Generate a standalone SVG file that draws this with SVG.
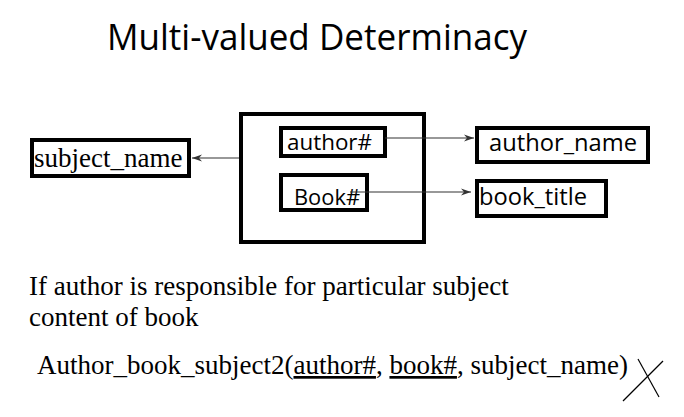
<svg xmlns="http://www.w3.org/2000/svg" width="684" height="417" viewBox="0 0 684 417">
<style>
.box{fill:#fff;stroke:#000;stroke-width:4}
.serif{font-family:"Liberation Serif","Times New Roman",serif;fill:#000}
.sans{font-family:"Open Sans","Noto Sans",sans-serif;fill:#000}
.conn{stroke:#333;stroke-width:1.2;fill:none}
</style>
<defs>
<marker id="arr" viewBox="0 0 10 10" refX="10" refY="5" markerWidth="10" markerHeight="10" markerUnits="userSpaceOnUse" orient="auto">
<path d="M0,1.5 L10,5 L0,8.5 L3,5 Z" fill="#333"/>
</marker>
</defs>
<rect width="684" height="417" fill="#fff"/>
<text class="sans" x="107" y="50" font-size="37" textLength="420" lengthAdjust="spacingAndGlyphs">Multi-valued Determinacy</text>
<g id="container"><rect class="box" x="241" y="114" width="183" height="128"/></g>
<g id="subject_name"><rect class="box" x="32" y="140" width="157" height="36"/><text class="serif" x="34" y="167" font-size="27">subject_name</text></g>
<g id="author_id"><rect class="box" x="281" y="128" width="104" height="28"/><text class="sans" x="287" y="150" font-size="22" textLength="85" lengthAdjust="spacingAndGlyphs">author#</text></g>
<g id="book_id"><rect class="box" x="281" y="175" width="86" height="35"/><text class="sans" x="294" y="205" font-size="22" textLength="66" lengthAdjust="spacingAndGlyphs">Book#</text></g>
<g id="author_name"><rect class="box" x="477" y="128" width="171" height="34"/><text class="sans" x="489" y="151" font-size="24" textLength="148" lengthAdjust="spacingAndGlyphs">author_name</text></g>
<g id="book_title"><rect class="box" x="477" y="181" width="129" height="35"/><text class="sans" x="479" y="205" font-size="24" textLength="108" lengthAdjust="spacingAndGlyphs">book_title</text></g>
<g id="connectors">
<line class="conn" x1="239" y1="158" x2="192" y2="158" marker-end="url(#arr)"/>
<line class="conn" x1="385" y1="138" x2="474" y2="138" marker-end="url(#arr)"/>
<line class="conn" x1="350" y1="192" x2="471" y2="192" marker-end="url(#arr)"/>
</g>
<text class="serif" x="29" y="295" font-size="27">If author is responsible for particular subject</text>
<text class="serif" x="29" y="326" font-size="27">content of book</text>
<text class="serif" x="37" y="374" font-size="27">Author_book_subject2(<tspan text-decoration="underline">author#</tspan>, <tspan text-decoration="underline">book#</tspan>, subject_name)</text>
<g id="cross" stroke="#000" stroke-width="1.2">
<line x1="638" y1="359" x2="659" y2="397"/>
<line x1="663" y1="361" x2="623" y2="401"/>
</g>
</svg>
